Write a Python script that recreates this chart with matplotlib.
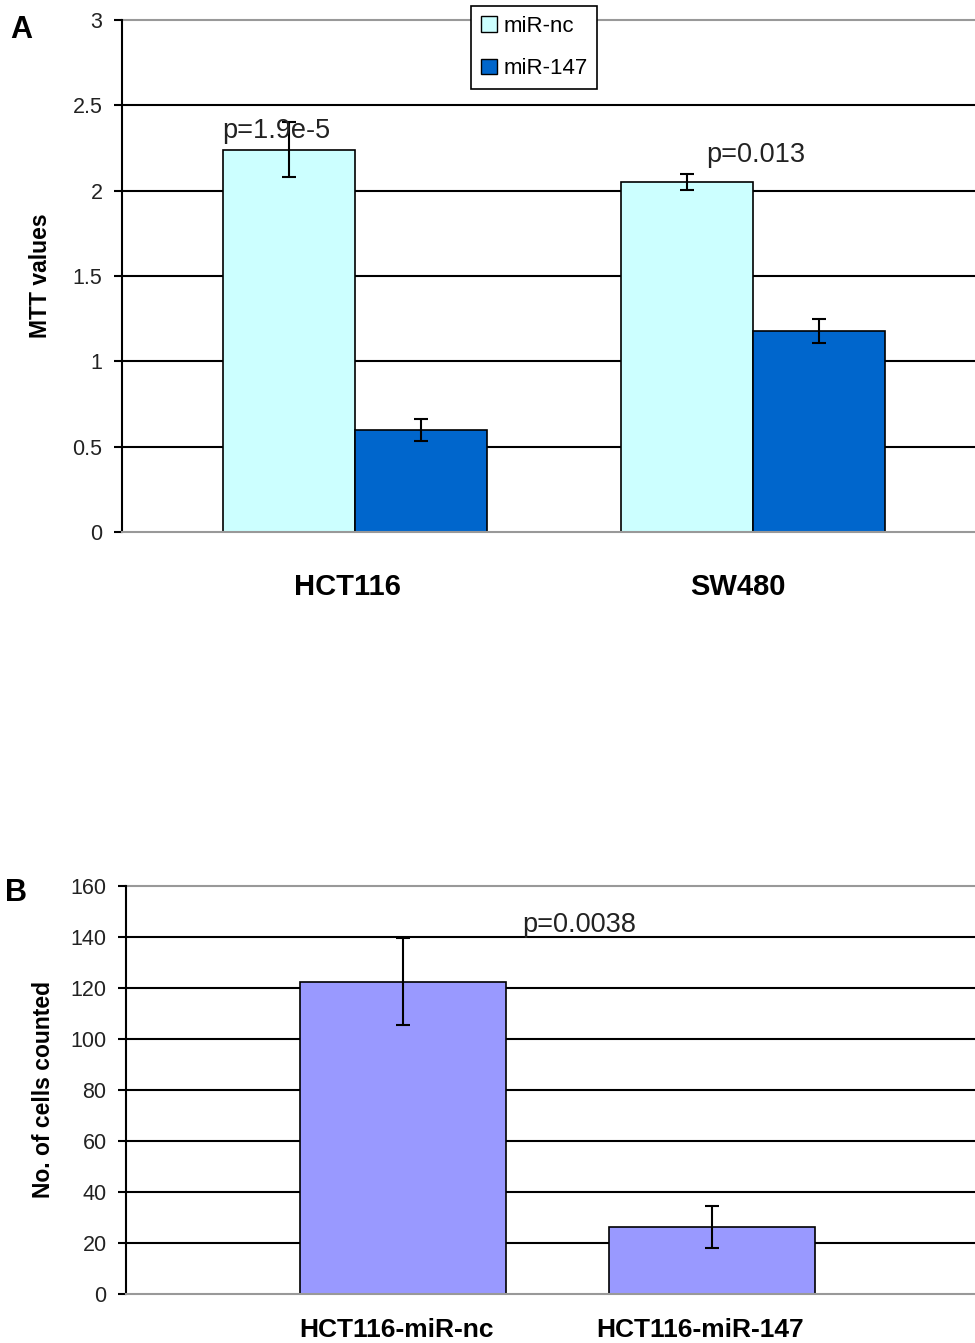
import numpy as np
import matplotlib
matplotlib.use("Agg")
import matplotlib.pyplot as plt
from matplotlib.patches import Patch

plt.rcParams['font.family'] = ['Liberation Sans', 'DejaVu Sans']

# panel A data (MTT assay)
cell_lines = ["HCT116", "SW480"]
mtt_nc = [2.24, 2.05]
mtt_nc_err = [0.16, 0.045]
mtt_147 = [0.60, 1.18]
mtt_147_err = [0.065, 0.07]
p_a = ["p=1.9e-5", "p=0.013"]
yticks_a = [0, 0.5, 1, 1.5, 2, 2.5, 3]

# panel B data (cell counts)
groups_b = ["HCT116-miR-nc", "HCT116-miR-147"]
counts = [122.5, 26.2]
counts_err = [17.2, 8.3]
p_b = "p=0.0038"
yticks_b = [0, 20, 40, 60, 80, 100, 120, 140, 160]

c_nc = "#CCFFFF"
c_147 = "#0066CC"
c_b = "#9999FF"

W, H = 975, 1343
fig = plt.figure(figsize=(W / 100, H / 100), dpi=100)


def style_axes(ax, yticks, ylim):
    ax.set_ylim(ylim)
    ax.set_yticks(yticks)
    ax.set_yticklabels([("%g" % t) for t in yticks], fontsize=15.5, color="#222222")
    for t in yticks[1:-1]:
        ax.axhline(t, color="black", lw=1.5, zorder=0)
    ax.axhline(yticks[-1], color="#999999", lw=1.5, zorder=0, clip_on=False)
    ax.spines["top"].set_visible(False)
    ax.spines["right"].set_visible(False)
    ax.spines["bottom"].set_color("#999999")
    ax.spines["bottom"].set_linewidth(1.5)
    ax.spines["left"].set_linewidth(1.5)
    ax.tick_params(axis="y", direction="out", length=6, width=1.5, pad=8)
    ax.set_xticks([])


# ---- panel A
axA = fig.add_axes([122 / W, 1 - 532 / H, 1 - 122 / W, (532 - 20) / H])
x = np.arange(len(cell_lines))
bw = 0.332
ekw = dict(ecolor="black", elinewidth=1.5, capsize=5, capthick=1.5)
axA.bar(x - bw / 2, mtt_nc, bw, color=c_nc, edgecolor="black", lw=1.2,
        yerr=mtt_nc_err, error_kw=ekw, zorder=2)
axA.bar(x + bw / 2, mtt_147, bw, color=c_147, edgecolor="black", lw=1.2,
        yerr=mtt_147_err, error_kw=ekw, zorder=2)
axA.set_xlim(-0.585, 1.558)
style_axes(axA, yticks_a, (0, 3))
for xi, lab, dx in zip(x, cell_lines, [-0.018, -0.038]):
    axA.text(xi + dx, -0.107, lab, transform=axA.get_xaxis_transform(),
             ha="center", va="center", fontsize=21, fontweight="bold")
axA.set_ylabel("MTT values", fontsize=16.5, fontweight="bold")
axA.yaxis.set_label_coords(-0.082, 0.5)
axA.text(-0.333, 2.35, p_a[0], fontsize=19.5, color="#222222", va="center", zorder=3)
axA.text(0.882, 2.21, p_a[1], fontsize=19.5, color="#222222", va="center", zorder=3)
handles = [Patch(facecolor=c_nc, edgecolor="black", label="miR-nc"),
           Patch(facecolor=c_147, edgecolor="black", label="miR-147")]
leg = axA.legend(handles=handles, loc="upper left",
                 bbox_to_anchor=(471 / W, 1 - 6 / H), bbox_transform=fig.transFigure,
                 fontsize=16, frameon=True, fancybox=False, framealpha=1,
                 edgecolor="black", handlelength=0.7, handleheight=0.7,
                 handletextpad=0.3, labelspacing=0.95, borderpad=0.45,
                 borderaxespad=0)
leg.get_frame().set_linewidth(1.2)
leg.set_zorder(5)
fig.text(10 / W, 1 - 30 / H, "A", fontsize=22, fontweight="bold", va="center")

# ---- panel B
axB = fig.add_axes([126 / W, 1 - 1294 / H, 1 - 126 / W, (1294 - 886) / H])
xb = np.arange(len(groups_b))
bwb = 0.667
axB.bar(xb, counts, bwb, color=c_b, edgecolor="black", lw=1.2,
        yerr=counts_err, error_kw=ekw, zorder=2)
axB.set_xlim(-0.896, 1.851)
style_axes(axB, yticks_b, (0, 160))
for xi, lab, dx in zip(xb, groups_b, [-0.02, -0.04]):
    axB.text(xi + dx, -0.088, lab, transform=axB.get_xaxis_transform(),
             ha="center", va="center", fontsize=19, fontweight="bold")
axB.set_ylabel("No. of cells counted", fontsize=16.5, fontweight="bold")
axB.yaxis.set_label_coords(-0.0836, 0.5)
axB.text(0.385, 144.7, p_b, fontsize=19.5, color="#222222", va="center", zorder=3)
fig.text(5 / W, 1 - 893 / H, "B", fontsize=22, fontweight="bold", va="center")

fig.savefig("out.png", dpi=100)
